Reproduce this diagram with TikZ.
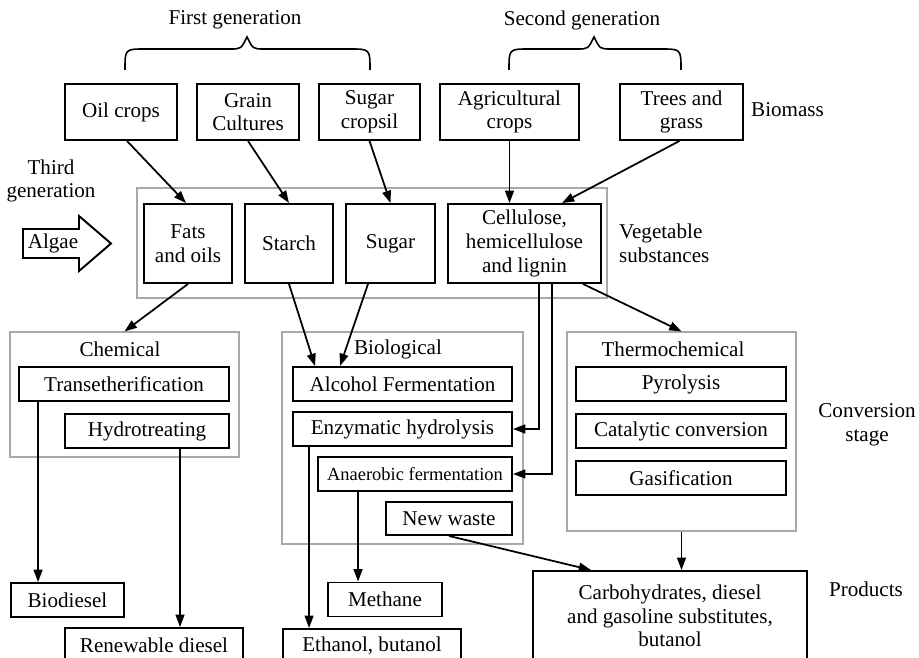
\documentclass[tikz,border=0pt]{standalone}
\usepackage{fontspec}
\setmainfont{Liberation Serif}
\usetikzlibrary{arrows.meta,positioning,calc}
\definecolor{framegray}{HTML}{A8A8A8}

\begin{document}
\begin{tikzpicture}[x=0.02cm,y=-0.02cm,font=\fontsize{12}{13.5}\selectfont]

\tikzset{>={Triangle[length=7pt,width=5pt]}}
\tikzset{box/.style={draw,line width=1.1pt,rectangle,align=center,inner sep=1pt,minimum height=6.8mm}}
\tikzset{stage/.style={draw=framegray,line width=0.7pt,rectangle,inner sep=0pt}}
\tikzset{flow/.style={->,line width=1pt}}

\useasboundingbox (0,0) rectangle (919,658);
\clip (0,0) rectangle (919,658);

%=================== generations and biomass
\node[align=center] (gen1) at (235,20) {First generation};
\node[align=center] (gen2) at (582,20) {Second generation};
\node[align=center] (gen3) at (51,181) {Third\\generation};

\draw[line width=0.9pt] (125,70) .. controls (125,49) and (125,49) .. (145,49) -- (230,49) .. controls (241,49) .. (247,37) .. controls (253,49) .. (264,49) -- (350,49) .. controls (370,49) and (370,49) .. (370,70);
\draw[line width=0.9pt] (509,70) .. controls (509,49) and (509,49) .. (529,49) -- (577,49) .. controls (588,49) .. (594,37) .. controls (600,49) .. (611,49) -- (661,49) .. controls (681,49) and (681,49) .. (681,70);

\node[box,minimum width=22.4mm,minimum height=11.2mm] at (121,112) [name=oil] {Oil crops};
\node[box,minimum width=20.4mm,minimum height=11.2mm] at (248,112) [name=grain] {Grain\\Cultures};
\node[box,minimum width=20.2mm,minimum height=11.2mm] at (369.5,112) [name=sugarc] {Sugar\\cropsil};
\node[box,minimum width=27.8mm,minimum height=11.2mm] at (509.5,112) [name=agri] {Agricultural\\crops};
\node[box,minimum width=24.6mm,minimum height=11.2mm] at (681.5,112) [name=trees] {Trees and\\grass};
\node[anchor=west] (biomass) at (745,110) {Biomass};

%=================== vegetable substances
\node[stage,minimum width=94mm,minimum height=22mm] at (372,243) [name=veg] {};
\node[anchor=west,align=left] (vegl) at (613,243) {Vegetable\\substances};

\node[box,minimum width=17.6mm,minimum height=15.8mm] at (188,243.5) [name=fats] {Fats\\and oils};
\node[box,minimum width=17.6mm,minimum height=15.8mm] at (289,243.5) [name=starch] {Starch};
\node[box,minimum width=17.8mm,minimum height=15.8mm] at (390.5,243.5) [name=sugar] {Sugar};
\node[box,minimum width=30.6mm,minimum height=15.8mm] at (524.5,243.5) [name=cell] {Cellulose,\\hemicellulose\\and lignin};

\draw[line width=1.1pt] (23,229) -- (79,229) -- (79,216) -- (111,243.5) -- (79,271) -- (79,258) -- (23,258) -- cycle;
\node (algae) at (53,243) {Algae};

%=================== conversion stage
\node[stage,minimum width=45.8mm,minimum height=25mm] at (124.5,394.5) [name=chem] {};
\node (chemt) at (120,349) {Chemical};
\node[box,minimum width=42mm] at (124,384) [name=trans] {Transetherification};
\node[box,minimum width=32.8mm] at (147,431) [name=hydro] {Hydrotreating};

\node[stage,minimum width=48.2mm,minimum height=42.4mm] at (402.5,438) [name=bio] {};
\node (biot) at (398,349) {Biological};
\node[box,minimum width=43.8mm] at (402.5,384) [name=alc] {Alcohol Fermentation};
\node[box,minimum width=43.8mm] at (402.5,429) [name=enzym] {Enzymatic hydrolysis};
\node[box,minimum width=38.8mm,font=\fontsize{10.5}{12}\selectfont] at (415,474) [name=anaer] {Anaerobic fermentation};
\node[box,minimum width=25.2mm,minimum height=6.6mm] at (449,518.5) [name=waste] {New waste};

\node[stage,minimum width=45.8mm,minimum height=39.8mm] at (681.5,431.5) [name=thermo] {};
\node (thermot) at (673,349) {Thermochemical};
\node[box,minimum width=42mm] at (681,384) [name=pyro] {Pyrolysis};
\node[box,minimum width=42mm] at (681,431) [name=cata] {Catalytic conversion};
\node[box,minimum width=42mm] at (681,478) [name=gasi] {Gasification};

\node[align=center] (convl) at (867,425) {Conversion\\stage};

%=================== products
\node[box,minimum width=22.6mm] at (67.5,600) [name=biod] {Biodiesel};
\node[box,minimum width=35.6mm] at (154,645) [name=renew] {Renewable diesel};
\node[box,minimum width=22.8mm] at (385,599.5) [name=methane] {Methane};
\node[box,minimum width=35.6mm] at (372,646) [name=ethanol] {Ethanol, butanol};
\node[box,minimum width=54.8mm,minimum height=18mm] at (670,616) [name=carbo] {Carbohydrates, diesel\\and gasoline substitutes,\\butanol};
\node (prodl) at (866,589) {Products};

%=================== arrows
\draw[flow] ([xshift=1.2mm]oil.south) -- ([xshift=-0.4mm]fats.north);
\draw[flow] (grain.south) -- (starch.north);
\draw[flow] (sugarc.south) -- (sugar.north);
\draw[flow] (agri.south) -- (agri.south |- cell.north);
\draw[flow] ([xshift=-0.4mm]trees.south) -- ([xshift=7.5mm]cell.north);

\draw[flow] (fats.south) -- (chem.north);
\draw[flow] (starch.south) -- ([xshift=-17.5mm]alc.north);
\draw[flow] ([xshift=-4.5mm]sugar.south) -- ([xshift=-12.5mm]alc.north);
\draw[flow] ([xshift=2.9mm]cell.south) |- (enzym.east);
\draw[flow] ([xshift=5.5mm]cell.south) |- (anaer.east);
\draw[flow] ([xshift=11.7mm]cell.south) -- (thermo.north);

\coordinate (transout) at ([xshift=4mm]trans.south west);
\coordinate (hydroout) at ([xshift=23.2mm]hydro.south west);
\coordinate (enzymout) at ([xshift=3.4mm]enzym.south west);
\coordinate (anaerout) at ([xshift=8.2mm]anaer.south west);
\draw[flow] (transout) -- (transout |- biod.north);
\draw[flow] (hydroout) -- (hydroout |- renew.north);
\draw[flow] (enzymout) -- (enzymout |- ethanol.north);
\draw[flow] (anaerout) -- (anaerout |- methane.north);
\draw[flow] (waste.south) -- ([xshift=11.8mm]carbo.north west);
\draw[flow] (thermo.south) -- (thermo.south |- carbo.north);

\end{tikzpicture}
\end{document}
